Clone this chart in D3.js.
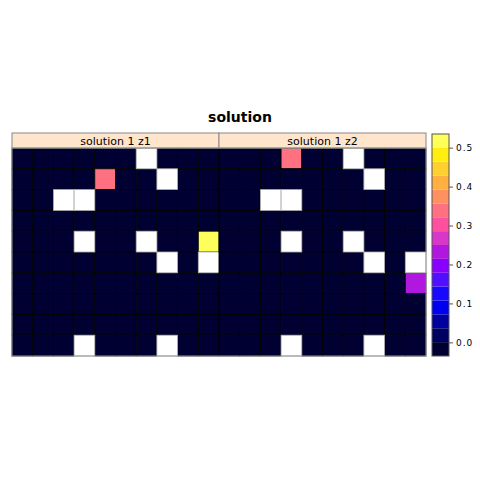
<!DOCTYPE html>
<html>
<head>
<meta charset="utf-8">
<title>solution</title>
<style>
  body { margin: 0; background: #fff; }
  text { font-family: "DejaVu Sans", sans-serif; }
</style>
</head>
<body>
<svg width="480" height="480"></svg>
<script src="https://d3js.org/d3.v7.min.js"></script>
<script>
// data: rows top to bottom, null = missing (drawn white)
const panels = ["solution 1 z1", "solution 1 z2"]
const z1 = [
  [0,0,0,0,0,0,null,0,0,0],
  [0,0,0,0,0.33,0,0,null,0,0],
  [0,0,null,null,0,0,0,0,0,0],
  [0,0,0,0,0,0,0,0,0,0],
  [0,0,0,null,0,0,null,0,0,0.5],
  [0,0,0,0,0,0,0,null,0,null],
  [0,0,0,0,0,0,0,0,0,0],
  [0,0,0,0,0,0,0,0,0,0],
  [0,0,0,0,0,0,0,0,0,0],
  [0,0,0,null,0,0,0,null,0,0]
]
const z2 = [
  [0,0,0,0.33,0,0,null,0,0,0],
  [0,0,0,0,0,0,0,null,0,0],
  [0,0,null,null,0,0,0,0,0,0],
  [0,0,0,0,0,0,0,0,0,0],
  [0,0,0,null,0,0,null,0,0,0],
  [0,0,0,0,0,0,0,null,0,null],
  [0,0,0,0,0,0,0,0,0,0.22],
  [0,0,0,0,0,0,0,0,0,0],
  [0,0,0,0,0,0,0,0,0,0],
  [0,0,0,null,0,0,0,null,0,0]
]
const keyTicks = [0.0, 0.1, 0.2, 0.3, 0.4, 0.5]
const keyColors = ["#000033","#000060","#00009e","#0000ee","#1808ff","#5010ff","#8800ff","#b018e0",
                   "#d838c8","#ff50a0","#ff7080","#ff9060","#ffb040","#ffd030","#ffee10","#ffff5a"]
const lo = -0.035, hi = 0.535

const svg = d3.select("svg")
const pTop = 148, pBottom = 356, pLeft = 12, pRight = 426

const breaks = d3.range(1, 16).map(i => lo + (hi - lo) * i / 16)
const color = d3.scaleThreshold().domain(breaks).range(keyColors)

const px = d3.scaleBand().domain(panels).range([pLeft, pRight])
const cols = d3.range(10), rows = d3.range(10)
const y = d3.scaleBand().domain(rows).range([pTop, pBottom])

svg.append("text")
  .attr("x", 240).attr("y", 122)
  .attr("text-anchor", "middle")
  .attr("font-size", 14).attr("font-weight", "bold")
  .text("solution")

;[z1, z2].forEach((z, k) => {
  const name = panels[k]
  const x = d3.scaleBand().domain(cols).range([px(name), px(name) + px.bandwidth()])
  const g = svg.append("g")
  const cells = rows.flatMap(r => cols.map(c => ({r, c, v: z[r][c]})))
  g.selectAll("rect")
    .data(cells)
    .join("rect")
      .attr("x", d => x(d.c)).attr("y", d => y(d.r))
      .attr("width", x.bandwidth()).attr("height", y.bandwidth())
      .attr("fill", d => d.v == null ? "#fff" : color(d.v))
      .attr("stroke", d => d.v == null ? "#aaa" : "#000")
      .attr("stroke-width", 0.8)
  g.selectAll("rect").filter(d => d.v == null).raise()

  // strip
  svg.append("rect")
    .attr("x", px(name)).attr("y", 133)
    .attr("width", px.bandwidth()).attr("height", pTop - 133)
    .attr("fill", "#ffe5cc").attr("stroke", "#888").attr("stroke-width", 1)
  svg.append("text")
    .attr("x", px(name) + px.bandwidth() / 2).attr("y", 145)
    .attr("text-anchor", "middle").attr("font-size", 11)
    .text(name)
})

// panel frame
svg.append("rect")
  .attr("x", pLeft).attr("y", pTop)
  .attr("width", pRight - pLeft).attr("height", pBottom - pTop)
  .attr("fill", "none").attr("stroke", "#999").attr("stroke-width", 1)

// colour key
const ky = d3.scaleLinear().domain([lo, hi]).range([pBottom, 134])
const kx = 432, kw = 17
svg.append("g").selectAll("rect")
  .data(keyColors)
  .join("rect")
    .attr("x", kx)
    .attr("y", (d, i) => ky(lo + (hi - lo) * (i + 1) / 16))
    .attr("width", kw)
    .attr("height", (d, i) => ky(lo + (hi - lo) * i / 16) - ky(lo + (hi - lo) * (i + 1) / 16))
    .attr("fill", d => d)
svg.append("rect")
  .attr("x", kx).attr("y", 134).attr("width", kw).attr("height", pBottom - 134)
  .attr("fill", "none").attr("stroke", "#555").attr("stroke-width", 1)

const axis = d3.axisRight(ky).tickValues(keyTicks).tickFormat(d3.format(".1f")).tickSize(4).tickPadding(3)
svg.append("g")
  .attr("transform", `translate(${kx + kw},0)`)
  .call(axis)
  .call(g => g.select(".domain").remove())
  .call(g => g.selectAll("text").attr("font-size", 9).attr("letter-spacing", 1).attr("font-family", "DejaVu Sans, sans-serif"))
  .call(g => g.selectAll("line").attr("stroke", "#555"))
</script>
</body>
</html>
